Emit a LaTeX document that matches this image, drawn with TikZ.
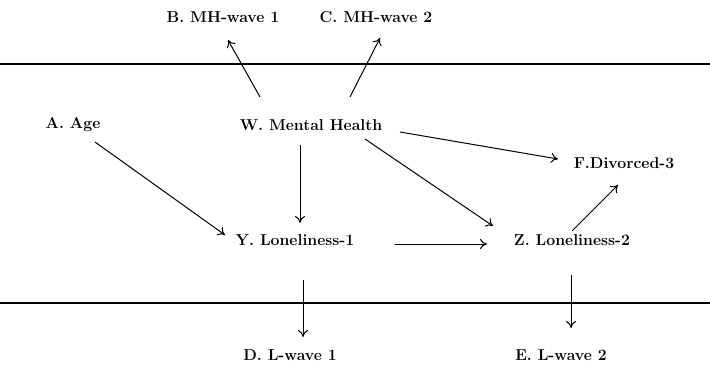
\documentclass[tikz,border=0pt]{standalone}
\usepackage{tikz}
\usetikzlibrary{calc,arrows.meta}

\begin{document}
\begin{tikzpicture}[x=1pt,y=1pt,
		lbl/.style={font=\fontsize{15.8}{18}\selectfont\bfseries,inner sep=0pt},
		arr/.style={line width=1pt,-{To[length=7pt,width=10pt]}}]
		%%%%% START %%%%%
		\useasboundingbox (0,0) rectangle (710,365);
		
		\draw[line width=1.1pt] (0,301) -- (710,301);
		\draw[line width=1.1pt] (0,62) -- (710,62);
		
		\node[lbl] (b) at (223,348) {B. MH-wave 1};
		\node[lbl] (c) at (376,348) {C. MH-wave 2};
		\node[lbl] (a) at (73,240) {A. Age};
		\node[lbl] (w) at (311,240) {W. Mental Health};
		\node[lbl] (f) at (624,202) {F.Divorced-3};
		\node[lbl] (y) at (295,125) {Y. Loneliness-1};
		\node[lbl] (z) at (572,125) {Z. Loneliness-2};
		\node[lbl] (d) at (290,10) {D. L-wave 1};
		\node[lbl] (e) at (561,10) {E. L-wave 2};
		
		\draw[arr] ($(w)+(-51,28)$) -- ($(b)+(5,-23)$);
		\draw[arr] ($(w)+(39,28)$) -- ($(c)+(4,-21)$);
		\draw[arr] ($(a)+(22,-17)$) -- ($(y)+(-70,5)$);
		\draw[arr] ($(w)+(-11,-20)$) -- ($(y)+(5,17)$);
		\draw[arr] ($(w)+(89,-7)$) -- ($(f)+(-66,4)$);
		\draw[arr] ($(w)+(54,-14)$) -- ($(z)+(-79,14)$);
		\draw[arr] ($(z)+(0,9)$) -- ($(f)+(-6,-22)$);
		\draw[arr] ($(y)+(100,-4)$) -- ($(z)+(-85,-4)$);
		\draw[arr] ($(y)+(8,-40)$) -- ($(d)+(13,18)$);
		\draw[arr] ($(z)+(-1,-35)$) -- ($(e)+(10,27)$);
		%%%%% END %%%%%
\end{tikzpicture}
\end{document}
